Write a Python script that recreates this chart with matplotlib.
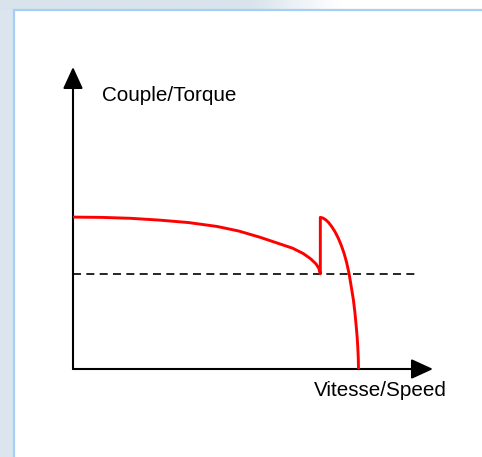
import numpy as np
import matplotlib
matplotlib.use("Agg")
import matplotlib.pyplot as plt
from matplotlib.patches import Rectangle

# ---- data (speed in % of axis length, torque in % of axis height) ----
speed = [0, 8, 16, 24, 32, 40, 46, 52, 57, 61, 64, 66, 67.5, 68.3, 68.7,
         68.7, 69.4, 70.2, 71.0, 71.9, 72.8, 73.7, 74.5, 75.3, 76.0, 76.7,
         77.3, 77.9, 78.3, 78.6, 78.9, 79.1, 79.25, 79.3]
torque = [50.3, 50.2, 49.9, 49.3, 48.5, 47.2, 45.7, 43.6, 41.6, 40.0, 38.2, 36.5, 34.8, 33.3, 31.5,
          50.2, 50.0, 49.4, 48.5, 47.1, 45.4, 43.3, 41.0, 38.3, 35.3, 31.5,
          27.2, 22.8, 18.8, 15.1, 11.0, 7.4, 3.5, 0.0]
load_torque = 31.5
load_speed_range = [0, 95.3]
y_label = "Couple/Torque"
x_label = "Vitesse/Speed"

W, H = 482, 457
fig = plt.figure(figsize=(W / 100, H / 100), dpi=100)
fig.patch.set_facecolor("#dae5ed")

# background (pixel coordinates)
bg = fig.add_axes([0, 0, 1, 1])
bg.set_xlim(0, W)
bg.set_ylim(H, 0)
bg.axis("off")
grad = np.ones((2, 200, 3))
c0 = np.array([0xd8, 0xe3, 0xeb]) / 255.0
for i in range(200):
    xpx = i / 199 * W
    t = np.clip((xpx - 250) / 90.0, 0, 1)
    grad[:, i, :] = c0 * (1 - t) + np.ones(3) * t
bg.imshow(grad, extent=(0, W, 10, 0), aspect="auto", zorder=0)
bg.add_patch(Rectangle((13.5, 9.5), W, H, facecolor="white", edgecolor="#a5cff8",
                       lw=1.6, zorder=1))

# main axes: origin at px (73, 369), x to px 433, y to px 67
x0, y0, x1, y1 = 73, 369, 433, 67
ax = fig.add_axes([x0 / W, (H - y0) / H, (x1 - x0) / W, (y0 - y1) / H])
ax.set_xlim(0, 100)
ax.set_ylim(0, 100)
ax.axis("off")
ax.patch.set_alpha(0)

arrow = dict(arrowstyle="-|>,head_length=1.85,head_width=0.85", color="black",
             lw=1.5, shrinkA=0, shrinkB=0, mutation_scale=7.2)
ax.annotate("", xy=(100, 0), xytext=(0, 0), arrowprops=arrow, annotation_clip=False)
ax.annotate("", xy=(0, 100), xytext=(0, 0), arrowprops=arrow, annotation_clip=False)

ax.plot(load_speed_range, [load_torque, load_torque], color="black", lw=1.2,
        dashes=(4.8, 3.2), zorder=2)
ax.plot(speed, torque, color="#ff0000", lw=2.1, solid_joinstyle="round",
        solid_capstyle="butt", zorder=3, clip_on=False)

ax.text(8.06, 88.9, y_label, ha="left", va="baseline", fontsize=14.9,
        family="Liberation Sans", color="black")
ax.text(66.9, -8.9, x_label, ha="left", va="baseline", fontsize=14.9,
        family="Liberation Sans", color="black", clip_on=False)

fig.savefig("out.png", dpi=100, facecolor=fig.get_facecolor())
